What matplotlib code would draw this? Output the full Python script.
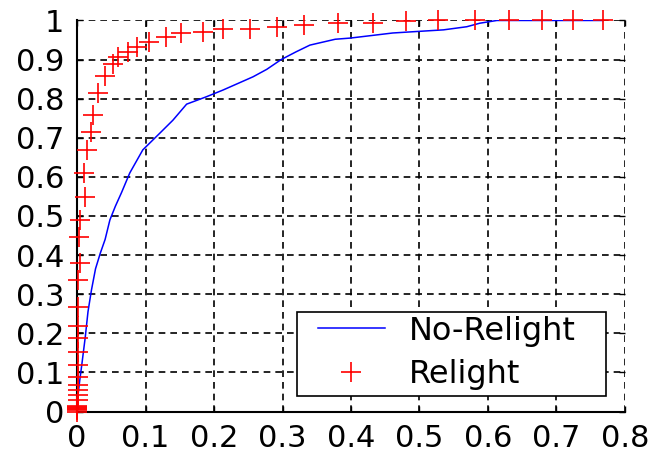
"""ROC-style comparison of No-Relight vs Relight detection rates."""
import matplotlib
matplotlib.use('Agg')
import matplotlib.pyplot as plt
from matplotlib.patches import Rectangle

# No-Relight curve (blue line)
no_relight_x = [0.002, 0.004, 0.007, 0.012, 0.016, 0.021, 0.027, 0.034, 0.041,
                0.048, 0.056, 0.065, 0.077, 0.096, 0.121, 0.14, 0.16, 0.189,
                0.213, 0.257, 0.277, 0.298, 0.32, 0.34, 0.377, 0.399, 0.461,
                0.498, 0.535, 0.569, 0.588, 0.613, 0.65, 0.7, 0.768]
no_relight_y = [0.05, 0.08, 0.12, 0.19, 0.255, 0.31, 0.365, 0.405, 0.44,
                0.49, 0.525, 0.56, 0.61, 0.669, 0.712, 0.745, 0.786, 0.805,
                0.822, 0.856, 0.875, 0.9, 0.92, 0.937, 0.952, 0.955, 0.968,
                0.972, 0.976, 0.984, 0.993, 1.0, 1.0, 1.0, 1.0]

# Relight points (red plus markers)
relight_x = [0.0, 0.0, 0.0, 0.0, 0.0, 0.0, 0.001, 0.001, 0.001, 0.001, 0.001,
             0.001, 0.001, 0.001, 0.001, 0.002, 0.002, 0.004, 0.003, 0.004,
             0.012, 0.01, 0.014, 0.021, 0.023, 0.031, 0.041, 0.052, 0.06,
             0.074, 0.087, 0.105, 0.13, 0.152, 0.184, 0.213, 0.253, 0.292,
             0.332, 0.381, 0.432, 0.48, 0.527, 0.581, 0.631, 0.679, 0.724,
             0.768]
relight_y = [0.0, 0.003, 0.006, 0.009, 0.012, 0.015, 0.029, 0.042, 0.055,
             0.068, 0.088, 0.119, 0.152, 0.188, 0.219, 0.268, 0.336, 0.38,
             0.446, 0.489, 0.549, 0.61, 0.669, 0.716, 0.758, 0.815, 0.858,
             0.888, 0.907, 0.92, 0.933, 0.946, 0.957, 0.968, 0.971, 0.978,
             0.978, 0.983, 0.988, 0.994, 0.994, 0.999, 1.0, 1.0, 1.0, 1.0,
             1.0, 1.0]

x_ticks = [0, 0.1, 0.2, 0.3, 0.4, 0.5, 0.6, 0.7, 0.8]
x_labels = ['0', '0.1', '0.2', '0.3', '0.4', '0.5', '0.6', '0.7', '0.8']
y_ticks = [0, 0.1, 0.2, 0.3, 0.4, 0.5, 0.6, 0.7, 0.8, 0.9, 1.0]
y_labels = ['0', '0.1', '0.2', '0.3', '0.4', '0.5', '0.6', '0.7', '0.8', '0.9', '1']

plt.rcParams['font.family'] = ['DejaVu Sans']

fig = plt.figure(figsize=(6.5, 4.55), dpi=100)
ax = fig.add_axes([0.1185, 0.0956, 0.8430, 0.8594])

ax.plot(no_relight_x, no_relight_y, color='#0000ff', lw=1.1, label='No-Relight',
        zorder=3)
ax.plot(relight_x, relight_y, linestyle='none', marker='+', color='#ff0000',
        markersize=15, markeredgewidth=1.2, label='Relight', clip_on=False,
        zorder=4)

ax.set_xlim(0, 0.8)
ax.set_ylim(0, 1)
ax.set_xticks(x_ticks)
ax.set_xticklabels(x_labels)
ax.set_yticks(y_ticks)
ax.set_yticklabels(y_labels)

# matlab-ish look: dashed black grid, inward ticks on all sides
ax.grid(True, color='black', linestyle=(0, (4, 3)), linewidth=1.2)
ax.set_axisbelow(True)
ax.tick_params(direction='in', length=4, width=1, labelsize=22,
               top=True, right=True, pad=9)
ax.spines['top'].set_visible(False)
ax.spines['right'].set_visible(False)
ax.spines['left'].set_linewidth(1.5)
ax.spines['bottom'].set_linewidth(1.5)

# legend box drawn by hand so the padding matches the matlab one
box = Rectangle((0.401, 0.0396), 0.564, 0.215, transform=ax.transAxes,
                facecolor='white', edgecolor='black', linewidth=1.2,
                clip_on=False, zorder=5)
ax.add_patch(box)
leg = ax.legend(loc='center', bbox_to_anchor=(0.675, 0.1496), fontsize=23,
                numpoints=1, frameon=False, handlelength=2.1,
                handletextpad=0.75, borderpad=0.0, labelspacing=0.4)
leg.set_zorder(6)

plt.savefig('out.png', dpi=100)
